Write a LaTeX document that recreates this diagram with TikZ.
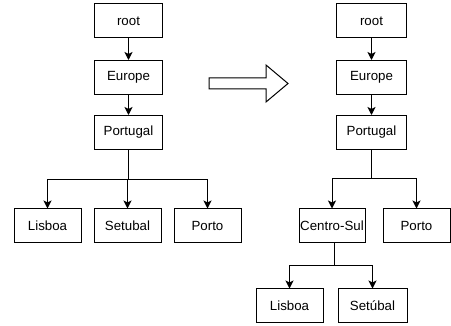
\documentclass[tikz,border=0pt]{standalone}
\usepackage{fontspec}
\setmainfont{Liberation Sans}
\usetikzlibrary{arrows.meta}
\begin{document}
\begin{tikzpicture}[x=1pt,y=-1pt,
  box/.style={draw,line width=1pt,minimum width=68pt,minimum height=34pt,inner sep=0pt,font=\fontsize{13.3}{15}\selectfont},
  conn/.style={line width=1pt,-{Stealth[length=8pt,width=8pt,inset=2pt]}}]
\useasboundingbox (0,0) rectangle (451,326);
% left tree
\node[box] (lroot) at (128.5,21) {root};
\node[box] (leur) at (128.5,77.5) {Europe};
\node[box] (lpor) at (128.5,132.5) {Portugal};
\node[box,minimum width=67pt] (llis) at (47.5,226) {Lisboa};
\node[box,minimum width=67pt] (lset) at (127.5,226) {Setubal};
\node[box,minimum width=67pt] (lpto) at (207.5,226) {Porto};
\coordinate (lj) at (128.5,180);
\draw[conn] (lroot) -- (leur);
\draw[conn] (leur) -- (lpor);
\draw[conn] (lpor.south) -- (lj) -| (llis.north);
\draw[conn] (lj) -| (lset.north);
\draw[conn] (lj) -| (lpto.north);
% hollow arrow
\draw[line width=1pt,fill=white] (209,78) -- (266,78) -- (266,65) -- (288,83.5) -- (266,102) -- (266,89) -- (209,89) -- cycle;
% right tree
\node[box,minimum width=70pt] (rroot) at (371.5,21) {root};
\node[box,minimum width=70pt] (reur) at (371.5,77.5) {Europe};
\node[box,minimum width=70pt] (rpor) at (371.5,132.5) {Portugal};
\node[box,minimum width=66pt] (rcs) at (332,226) {Centro-Sul};
\node[box,minimum width=67pt] (rpto) at (416.5,226) {Porto};
\node[box,minimum width=67pt] (rlis) at (289.5,306) {Lisboa};
\node[box,minimum width=69pt] (rset) at (372.5,306) {Setúbal};
\coordinate (rj) at (371.5,179);
\coordinate (rj2) at (334,266);
\draw[conn] (rroot) -- (reur);
\draw[conn] (reur) -- (rpor);
\draw[conn] (rpor.south) -- (rj) -| (rcs.north);
\draw[conn] (rj) -| (rpto.north);
\draw[line width=1pt] (rcs.south -| rj2) -- (rj2);
\draw[conn] (rj2) -| (rlis.north);
\draw[conn] (rj2) -| (rset.north);
\end{tikzpicture}
\end{document}
